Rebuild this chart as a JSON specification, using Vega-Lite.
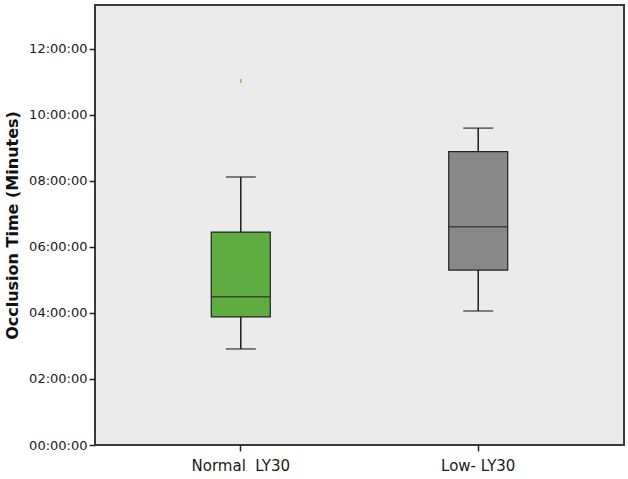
{
  "$schema": "https://vega.github.io/schema/vega-lite/v6.json",
  "autosize": "none",
  "width": 529,
  "height": 440,
  "padding": {"left": 95, "top": 5, "right": 4, "bottom": 34},
  "background": "white",
  "config": {
    "view": {"fill": "#ebebeb", "stroke": "#3a3a3a", "strokeWidth": 2},
    "font": "DejaVu Sans"
  },
  "datasets": {
    "stats": [
      {"group": "Normal\u00a0 LY30", "lo": 2.91, "q1": 3.88, "med": 4.49, "q3": 6.45, "hi": 8.12},
      {"group": "Low- LY30", "lo": 4.06, "q1": 5.30, "med": 6.61, "q3": 8.89, "hi": 9.60}
    ],
    "outliers": [
      {"group": "Normal\u00a0 LY30", "value": 11.03}
    ]
  },
  "encoding": {
    "x": {
      "field": "group",
      "type": "nominal",
      "sort": ["Normal\u00a0 LY30", "Low- LY30"],
      "scale": {"domain": ["Normal\u00a0 LY30", "Low- LY30"], "paddingInner": 0, "paddingOuter": 0.114},
      "axis": {
        "title": null,
        "labelAngle": 0,
        "labelFontSize": 15,
        "labelColor": "#1a1a1a",
        "labelPadding": 7,
        "tickSize": 6,
        "tickColor": "#222",
        "tickWidth": 1.5,
        "domain": false
      }
    }
  },
  "layer": [
    {
      "data": {"name": "stats"},
      "mark": {"type": "rule", "color": "#1a1a1a", "strokeWidth": 1.5},
      "encoding": {
        "y": {
          "field": "lo",
          "type": "quantitative",
          "scale": {"domain": [0, 13.33], "nice": false, "zero": true},
          "axis": {
            "title": "Occlusion Time (Minutes)",
            "titleFontSize": 16,
            "titleFontWeight": "bold",
            "titleColor": "#111",
            "titlePadding": 8,
            "values": [0, 2, 4, 6, 8, 10, 12],
            "labelExpr": "(datum.value < 10 ? '0' : '') + datum.value + ':00:00'",
            "labelFontSize": 13,
            "labelColor": "#1a1a1a",
            "labelPadding": 2,
            "tickSize": 6,
            "tickColor": "#222",
            "tickWidth": 1.5,
            "grid": false,
            "domain": false
          }
        },
        "y2": {"field": "hi"}
      }
    },
    {
      "data": {"name": "stats"},
      "mark": {"type": "bar", "size": 59, "stroke": "#222", "strokeWidth": 1.2},
      "encoding": {
        "y": {"field": "q1", "type": "quantitative"},
        "y2": {"field": "q3"},
        "color": {
          "field": "group",
          "type": "nominal",
          "scale": {"domain": ["Normal\u00a0 LY30", "Low- LY30"], "range": ["#5fad41", "#888888"]},
          "legend": null
        }
      }
    },
    {
      "data": {"name": "stats"},
      "mark": {"type": "tick", "size": 59, "thickness": 1.5, "color": "#222"},
      "encoding": {"y": {"field": "med", "type": "quantitative"}}
    },
    {
      "data": {"name": "stats"},
      "mark": {"type": "tick", "size": 30, "thickness": 1.5, "color": "#1a1a1a"},
      "encoding": {"y": {"field": "lo", "type": "quantitative"}}
    },
    {
      "data": {"name": "stats"},
      "mark": {"type": "tick", "size": 30, "thickness": 1.5, "color": "#1a1a1a"},
      "encoding": {"y": {"field": "hi", "type": "quantitative"}}
    },
    {
      "data": {"name": "outliers"},
      "mark": {"type": "point", "shape": "M0,-1L0,1", "size": 16, "filled": false, "stroke": "#5fcf41", "strokeWidth": 1.5, "opacity": 1},
      "encoding": {"y": {"field": "value", "type": "quantitative"}}
    }
  ]
}
